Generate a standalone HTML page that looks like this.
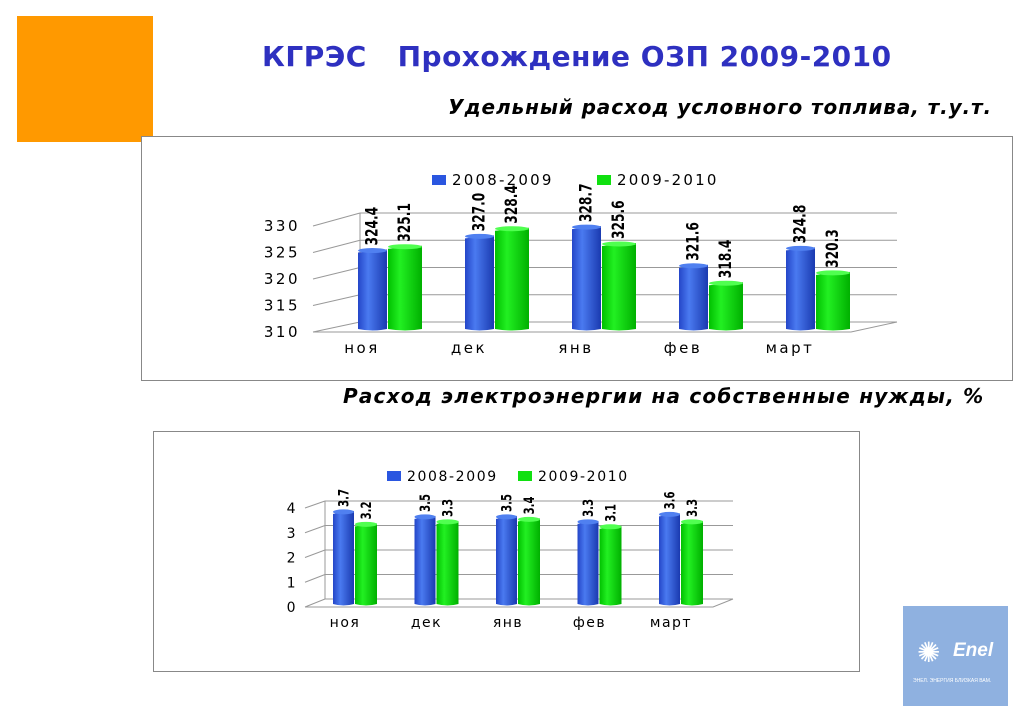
<!DOCTYPE html>
<html><head><meta charset="utf-8">
<style>
body{margin:0;width:1023px;height:716px;background:#fff;position:relative;overflow:hidden;font-family:"Liberation Sans","DejaVu Sans",sans-serif}
.abs{position:absolute}
</style></head><body>
<div class="abs" style="left:17px;top:16px;width:136px;height:126px;background:#ff9900"></div>
<div class="abs" style="left:262px;top:40px;font-size:28px;font-weight:bold;color:#2e30c0;white-space:pre;font-family:'DejaVu Sans',sans-serif;letter-spacing:0.5px">КГРЭС   Прохождение ОЗП 2009-2010</div>
<div class="abs" style="right:31px;top:95px;font-size:20px;font-weight:bold;font-style:italic;white-space:nowrap;font-family:'DejaVu Sans',sans-serif;letter-spacing:0.9px">Удельный расход условного топлива, т.у.т.</div>
<div class="abs" style="left:343px;top:384px;font-size:20px;font-weight:bold;font-style:italic;white-space:nowrap;font-family:'DejaVu Sans',sans-serif;letter-spacing:1.2px">Расход электроэнергии на собственные нужды, %</div>
<div class="abs" style="left:903px;top:606px;width:105px;height:100px;background:#8fb1e0;color:#fff">
 <div style="position:absolute;left:14px;top:30px;font-size:28px;color:#fff">✺</div>
 <div style="position:absolute;left:50px;top:34px;font-size:19px;font-weight:bold;font-style:italic">Enel</div>
 <div style="position:absolute;left:10px;top:72px;font-size:5px;white-space:nowrap">ЭНЕЛ. ЭНЕРГИЯ БЛИЗКАЯ ВАМ.</div>
</div>
<svg class="abs" style="left:0;top:0" width="1023" height="716">
<defs>
<linearGradient id="gb" x1="0" x2="1"><stop offset="0" stop-color="#2446c8"/><stop offset="0.35" stop-color="#4a7af0"/><stop offset="1" stop-color="#1a3ab0"/></linearGradient>
<linearGradient id="gg" x1="0" x2="1"><stop offset="0" stop-color="#00c000"/><stop offset="0.35" stop-color="#22f022"/><stop offset="1" stop-color="#00b000"/></linearGradient>
</defs>
<rect x="141.5" y="136.5" width="871" height="244" fill="#fff" stroke="#888"/>
<rect x="153.5" y="431.5" width="706" height="240" fill="#fff" stroke="#888"/>
<g id="c1"></g><g id="c2"></g>
</svg>
<script>
const cats=["ноя","дек","янв","фев","март"];
const c1Ticks=[310,315,320,325,330];
const c1S1=[324.4,327.0,328.7,321.6,324.8];
const c1S2=[325.1,328.4,325.6,318.4,320.3];
const c2Ticks=[0,1,2,3,4];
const c2S1=[3.7,3.5,3.5,3.3,3.6];
const c2S2=[3.2,3.3,3.4,3.1,3.3];
const NS="http://www.w3.org/2000/svg";
function mk(p,t,a,txt){const e=document.createElementNS(NS,t);for(const k in a)e.setAttribute(k,a[k]);if(txt!==undefined)e.textContent=txt;p.appendChild(e);return e;}
function chart(g,o){
 const yF=v=>o.fBase-(v-o.min)/(o.max-o.min)*(o.fBase-o.fTop);
 const yB=v=>o.bBase-(v-o.min)/(o.max-o.min)*(o.bBase-o.bTop);
 const yBar=v=>o.barBase-(v-o.min)*o.k;
 o.ticks.forEach(t=>{
  let l=mk(g,'line',{x1:o.bx0,x2:o.bx1,y1:yB(t),y2:yB(t),stroke:'#999'});
  
  mk(g,'line',{x1:o.fx0,x2:o.bx0,y1:yF(t),y2:yB(t),stroke:'#999'});
  let tx=mk(g,'text',{x:o.lx,y:yF(t)+5,'text-anchor':'end','font-size':o.tfs,'font-family':'DejaVu Sans,sans-serif','letter-spacing':o.tls},t);
  
 });
 mk(g,'line',{x1:o.bx0,x2:o.bx0,y1:yB(o.max),y2:yB(o.min),stroke:'#999'});
 mk(g,'polyline',{points:`${o.fx0},${yF(o.min)} ${o.fx1},${yF(o.min)} ${o.bx1},${yB(o.min)}`,fill:'none',stroke:'#999'});
 cats.forEach((c,i)=>{
  [[o.s1,'url(#gb)','#5080f0',o.x1,o.w1],[o.s2,'url(#gg)','#50ff50',o.x2,o.w2]].forEach(([s,f,cap,x0,w])=>{
   const x=x0+o.step*i,top=yBar(s[i]);
   let r=mk(g,'path',{d:`M${x},${top+2} L${x},${o.barBase} Q${x+w/2},${o.barBase+3} ${x+w},${o.barBase} L${x+w},${top-1} Z`,fill:f});
   
   mk(g,'ellipse',{cx:x+w/2,cy:top,rx:w/2,ry:2.5,fill:cap});
   const tx=x+w/2+5,ty=top-5;
   let v=mk(g,'text',{x:tx,y:ty,'font-size':o.vfs,'font-weight':'bold','font-family':'DejaVu Sans,sans-serif'},s[i].toFixed(1));
   v.setAttribute('transform',`translate(${tx} ${ty}) scale(1 0.72) rotate(-90) translate(${-tx} ${-ty})`);
   
  });
  let cl=mk(g,'text',{x:o.cx0+o.step*i,y:o.cy,'text-anchor':'middle','font-size':o.tfs,'font-family':'DejaVu Sans,sans-serif','letter-spacing':o.tls},c);
  
 });
 [[o.lg[0],'#2a56e0','2008-2009'],[o.lg[1],'#10e010','2009-2010']].forEach(([x,col,t])=>{
  let r=mk(g,'rect',{x:x,y:o.ly-10,width:14,height:10,fill:col});
  
  let tt=mk(g,'text',{x:x+20,y:o.ly,'font-size':o.lfs,'font-family':'DejaVu Sans,sans-serif','letter-spacing':o.lls},t);
  
 });
}
chart(document.getElementById('c1'),{ticks:c1Ticks,min:310,max:330,s1:c1S1,s2:c1S2,
 fBase:332,fTop:226,bBase:322,bTop:213,bx0:360,bx1:897,fx0:313,fx1:851,lx:300,
 barBase:329,k:5.45,x1:358,w1:29,x2:388,w2:34,step:107,cx0:362,cy:353,tfs:15,tls:2.5,vfs:17,lfs:15,lls:2.2,lg:[432,597],ly:185});
chart(document.getElementById('c2'),{ticks:c2Ticks,min:0,max:4,s1:c2S1,s2:c2S2,
 fBase:607,fTop:508,bBase:599,bTop:501,bx0:325,bx1:733,fx0:305,fx1:713,lx:297,
 barBase:604,k:24.9,x1:333,w1:21,x2:355,w2:22,step:81.5,cx0:345,cy:627,tfs:14,tls:1.5,vfs:14,lfs:14,lls:1.6,lg:[387,518],ly:481});
</script>
</body></html>
